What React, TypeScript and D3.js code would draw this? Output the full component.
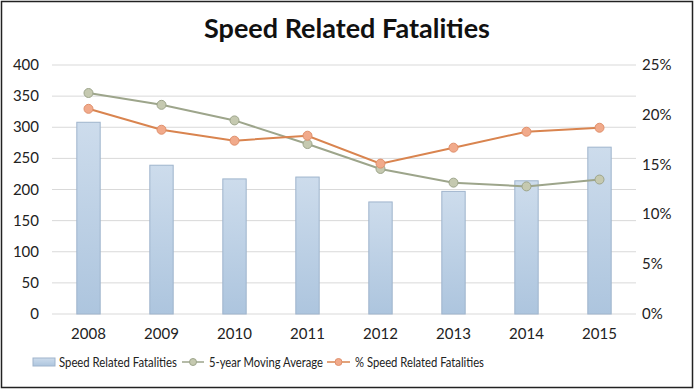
import * as d3 from 'd3';

// chart data
const years = ['2008', '2009', '2010', '2011', '2012', '2013', '2014', '2015'];
const fatalities = [308, 239, 217, 220, 180, 197, 214, 268];
const movingAvg = [355, 336, 311, 273, 233, 211, 205, 216];
const pctSpeed = [20.6, 18.5, 17.4, 17.9, 15.1, 16.7, 18.3, 18.7];
const leftTicks = [0, 50, 100, 150, 200, 250, 300, 350, 400];
const rightTicks = [0, 5, 10, 15, 20, 25];

const W = 694;
const H = 389;
const font = 'Lato, "DejaVu Sans", sans-serif';

export default function App() {
  const margin = { top: 65, right: 58, bottom: 75, left: 52 };
  const x = d3.scaleBand<string>().domain(years).range([margin.left, W - margin.right]).paddingInner(0.68).paddingOuter(0.34);
  const yL = d3.scaleLinear().domain([0, 400]).range([H - margin.bottom, margin.top]);
  const yR = d3.scaleLinear().domain([0, 25]).range([H - margin.bottom, margin.top]);
  const cx = (d: string) => (x(d) ?? 0) + x.bandwidth() / 2;

  const avgLine = d3.line<number>().x((_, i) => cx(years[i])).y(d => yL(d));
  const pctLine = d3.line<number>().x((_, i) => cx(years[i])).y(d => yR(d));

  const green = '#9da58b';
  const greenFill = '#c5c9b0';
  const orange = '#d9844f';
  const orangeFill = '#f1aa8b';

  const legendY = 362;

  return (
    <svg width={W} height={H} style={{ position: 'absolute', left: 0, top: 0, background: '#fff' }}>
      <defs>
        <linearGradient id="barGrad" x1="0" y1="0" x2="0" y2="1">
          <stop offset="0%" stopColor="#cddcec" />
          <stop offset="100%" stopColor="#adc5de" />
        </linearGradient>
      </defs>
      <rect x={1.5} y={1.5} width={W - 3} height={H - 3} fill="#fff" stroke="#222" strokeWidth={1.5} />

      <text x={W / 2} y={38} textAnchor="middle" fontFamily={font} fontWeight={700} fontSize={27} fill="#111">
        Speed Related Fatalities
      </text>

      {leftTicks.map(t => (
        <g key={t}>
          <line x1={margin.left} x2={W - margin.right} y1={yL(t)} y2={yL(t)} stroke="#d9d9d9" strokeWidth={1} />
          <text x={39} y={yL(t) + 5} textAnchor="end" fontFamily={font} fontSize={15} fill="#222">{t}</text>
        </g>
      ))}
      {rightTicks.map(t => (
        <text key={t} x={642} y={yR(t) + 5} fontFamily={font} fontSize={15} fill="#222">{t}%</text>
      ))}

      {years.map((yr, i) => (
        <g key={yr}>
          <rect x={x(yr)} y={yL(fatalities[i])} width={x.bandwidth()} height={yL(0) - yL(fatalities[i])}
            fill="url(#barGrad)" stroke="#9fb4cc" strokeWidth={1} />
          <text x={cx(yr)} y={339} textAnchor="middle" fontFamily={font} fontSize={15} fill="#222">{yr}</text>
        </g>
      ))}

      <path d={avgLine(movingAvg) ?? ''} fill="none" stroke={green} strokeWidth={2} />
      {movingAvg.map((v, i) => (
        <circle key={i} cx={cx(years[i])} cy={yL(v)} r={4.5} fill={greenFill} stroke={green} strokeWidth={1} />
      ))}
      <path d={pctLine(pctSpeed) ?? ''} fill="none" stroke={orange} strokeWidth={2} />
      {pctSpeed.map((v, i) => (
        <circle key={i} cx={cx(years[i])} cy={yR(v)} r={4.5} fill={orangeFill} stroke="#e0906c" strokeWidth={1} />
      ))}

      <g fontFamily={font} fontSize={14} fill="#222">
        <rect x={33} y={legendY - 4} width={22} height={8} fill="url(#barGrad)" stroke="#9fb4cc" />
        <text x={59} y={legendY + 5} textLength={118} lengthAdjust="spacingAndGlyphs">Speed Related Fatalities</text>
        <line x1={182} x2={204} y1={legendY} y2={legendY} stroke={green} strokeWidth={1.5} />
        <circle cx={193} cy={legendY} r={3.5} fill={greenFill} stroke={green} />
        <text x={209} y={legendY + 5} textLength={114} lengthAdjust="spacingAndGlyphs">5-year Moving Average</text>
        <line x1={327} x2={350} y1={legendY} y2={legendY} stroke={orange} strokeWidth={1.5} />
        <circle cx={338.5} cy={legendY} r={3.5} fill={orangeFill} stroke="#e0906c" />
        <text x={355} y={legendY + 5} textLength={129} lengthAdjust="spacingAndGlyphs">% Speed Related Fatalities</text>
      </g>
    </svg>
  );
}
